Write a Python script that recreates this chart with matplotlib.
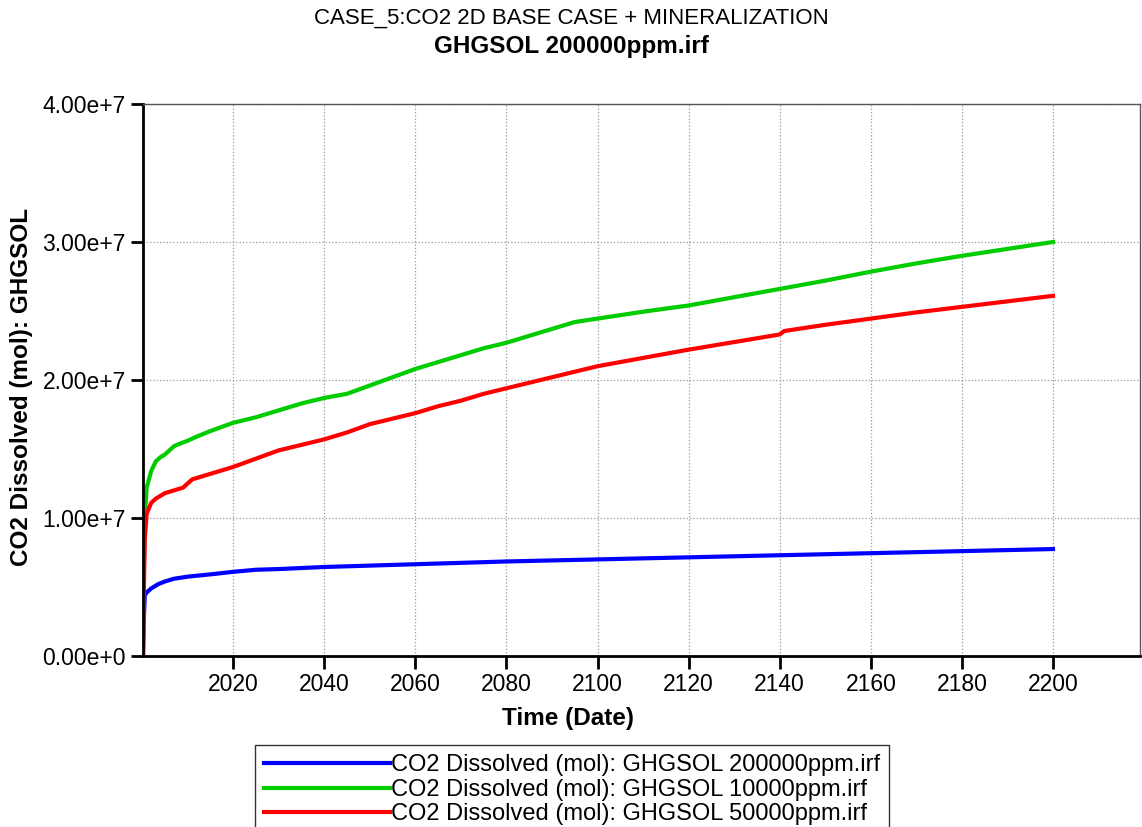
import matplotlib.pyplot as plt
import numpy as np

plt.rcParams['font.family'] = ['Liberation Sans', 'DejaVu Sans']

# CO2 dissolved (mol) vs time, values in millions of mol
years_200k = [2000.2, 2000.35, 2000.6, 2001, 2002, 2003.5, 2005, 2007, 2010, 2013, 2016,
              2020, 2025, 2030, 2040, 2060, 2080, 2100, 2120, 2140, 2160, 2180, 2200]
sol_200k = [0, 2.5, 4.4, 4.6, 4.9, 5.2, 5.4, 5.6, 5.75, 5.85, 5.95,
            6.1, 6.25, 6.3, 6.45, 6.65, 6.85, 7.0, 7.15, 7.3, 7.45, 7.6, 7.75]

years_10k = [2000.2, 2000.35, 2000.6, 2001, 2002, 2003, 2004, 2005, 2006, 2007, 2008,
             2010, 2012, 2015, 2020, 2025, 2030, 2035, 2040, 2045, 2050, 2055, 2060,
             2065, 2070, 2075, 2080, 2085, 2090, 2095, 2100, 2110, 2120, 2130, 2140,
             2150, 2160, 2170, 2180, 2190, 2200]
sol_10k = [0, 6, 10, 12.2, 13.4, 14.1, 14.4, 14.6, 14.9, 15.2, 15.35,
           15.6, 15.9, 16.3, 16.9, 17.3, 17.8, 18.3, 18.7, 19.0, 19.6, 20.2, 20.8,
           21.3, 21.8, 22.3, 22.7, 23.2, 23.7, 24.2, 24.45, 24.95, 25.4, 26.0, 26.6,
           27.2, 27.85, 28.45, 29.0, 29.5, 30.0]

years_50k = [2000.2, 2000.35, 2000.6, 2001, 2002, 2003, 2005, 2007, 2009, 2010, 2011,
             2013, 2016, 2020, 2025, 2030, 2035, 2040, 2045, 2050, 2055, 2060, 2065,
             2070, 2075, 2080, 2085, 2090, 2095, 2100, 2110, 2120, 2130, 2140, 2141,
             2150, 2160, 2170, 2180, 2190, 2200]
sol_50k = [0, 4, 8.5, 10.3, 11.1, 11.4, 11.8, 12.0, 12.2, 12.5, 12.8,
           13.0, 13.3, 13.7, 14.3, 14.9, 15.3, 15.7, 16.2, 16.8, 17.2, 17.6, 18.1,
           18.5, 19.0, 19.4, 19.8, 20.2, 20.6, 21.0, 21.6, 22.2, 22.75, 23.3, 23.55,
           24.0, 24.45, 24.9, 25.3, 25.7, 26.1]

labels = ['CO2 Dissolved (mol): GHGSOL 200000ppm.irf',
          'CO2 Dissolved (mol): GHGSOL 10000ppm.irf',
          'CO2 Dissolved (mol): GHGSOL 50000ppm.irf']
colors = ['#0000ff', '#00cc00', '#ff0000']

fig = plt.figure(figsize=(11.42, 8.27), dpi=100)
ax = fig.add_axes([143 / 1142, 171 / 827, 997 / 1142, 552 / 827])

for yrs, vals, lab, c in zip([years_200k, years_10k, years_50k],
                             [sol_200k, sol_10k, sol_50k], labels, colors):
    ax.plot(yrs, np.array(vals) * 1e6, color=c, lw=3, label=lab)

ax.set_xlim(2000.2, 2219.1)
ax.set_ylim(0, 4e7)
ax.set_xticks(np.arange(2020, 2201, 20))
ax.set_yticks([0, 1e7, 2e7, 3e7, 4e7])
ax.set_yticklabels(['0.00e+0', '1.00e+7', '2.00e+7', '3.00e+7', '4.00e+7'])
ax.tick_params(labelsize=16.5, length=9, width=2, direction='out', color='black')
ax.grid(True, color='#999999', ls=':', lw=0.9)

for s in ['left', 'bottom']:
    ax.spines[s].set_linewidth(2)
for s in ['top', 'right']:
    ax.spines[s].set_linewidth(1)
    ax.spines[s].set_color('#555555')

fig.text(0.5, 1 - 18 / 827, 'CASE_5:CO2 2D BASE CASE + MINERALIZATION',
         ha='center', va='center', fontsize=16)
fig.text(0.5, 1 - 47 / 827, 'GHGSOL 200000ppm.irf',
         ha='center', va='center', fontsize=17.5, fontweight='bold')
fig.text(0.497, 1 - 718 / 827, 'Time (Date)', ha='center', va='center',
         fontsize=17.5, fontweight='bold')
fig.text(22 / 1142, 1 - 387 / 827, 'CO2 Dissolved (mol): GHGSOL', ha='center',
         va='center', rotation=90, fontsize=17.5, fontweight='bold')

leg = fig.legend(loc='upper left', bbox_to_anchor=(255 / 1142, 1 - 745 / 827),
                 fontsize=17, frameon=True, fancybox=False, edgecolor='black',
                 handlelength=5.3, handletextpad=0.05, borderpad=0.4,
                 labelspacing=0.1, borderaxespad=0)
leg.get_frame().set_linewidth(1)

fig.savefig('out.png', dpi=100)
